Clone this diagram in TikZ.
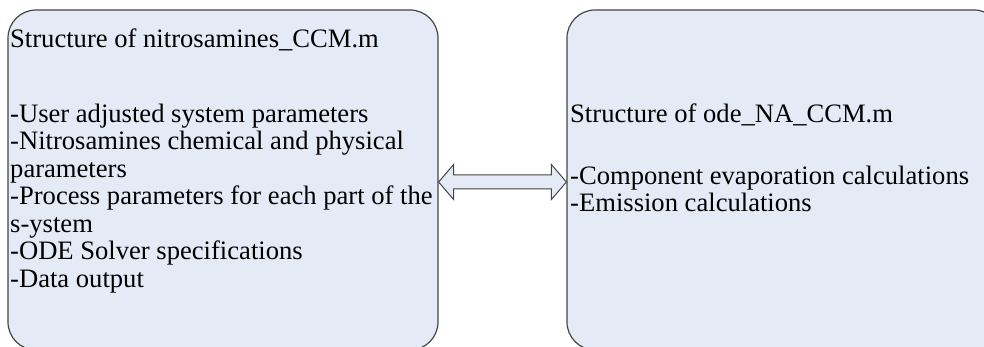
\documentclass[tikz,border=0pt]{standalone}
\usepackage{fontspec}
\setmainfont{Liberation Serif}
\usetikzlibrary{calc}
\definecolor{boxfill}{HTML}{E4EBF6}
\definecolor{boxline}{HTML}{454545}
\tikzset{
  modulebox/.style={draw=boxline, fill=boxfill, line width=1.2pt,
    rounded corners=28pt, rectangle, inner sep=0pt},
  bodytext/.style={anchor=north west, inner sep=0pt, align=left,
    font=\fontsize{26.6}{27.5}\selectfont},
  linkarrow/.style={draw=boxline, fill=boxfill, line width=1pt, line join=miter}
}
\begin{document}
\begin{tikzpicture}[x=1pt, y=-1pt]
  \useasboundingbox (0,0) rectangle (984,347);
  % the two script modules
  \node[modulebox, minimum width=430pt, minimum height=340pt] (L) at (223,180) {};
  \node[modulebox, minimum width=435pt, minimum height=340pt] (R) at (784.5,180) {};

  % main script
  \node[bodytext] (Ltitle) at (10,27.75) {\strut Structure of nitrosamines\_CCM.m};
  \node[bodytext] (Llist) at (10,102.75) {\strut -User adjusted system parameters\\
    -Nitrosamines chemical and physical\\
    parameters\\
    -Process parameters for each part of the\\
    s-ystem\\
    -ODE Solver specifications\\
    -Data output};

  % ODE function
  \node[bodytext] (Rtitle) at (570,102.75) {\strut Structure of ode\_NA\_CCM.m};
  \node[bodytext] (Rlist) at (570,164.75) {\strut -Component evaporation calculations\\
    -Emission calculations};

  % two-way link between the modules
  \coordinate (aL) at ($(L.east)+(0,2)$);
  \coordinate (aR) at ($(R.west)+(0,2)$);
  \draw[linkarrow] (aL) -- ($(aL)+(15,-17.5)$) -- ($(aL)+(15,-7)$)
    -- ($(aR)+(-15,-7)$) -- ($(aR)+(-15,-17.5)$) -- (aR)
    -- ($(aR)+(-15,17.5)$) -- ($(aR)+(-15,7)$) -- ($(aL)+(15,7)$)
    -- ($(aL)+(15,17.5)$) -- cycle;
\end{tikzpicture}
\end{document}
